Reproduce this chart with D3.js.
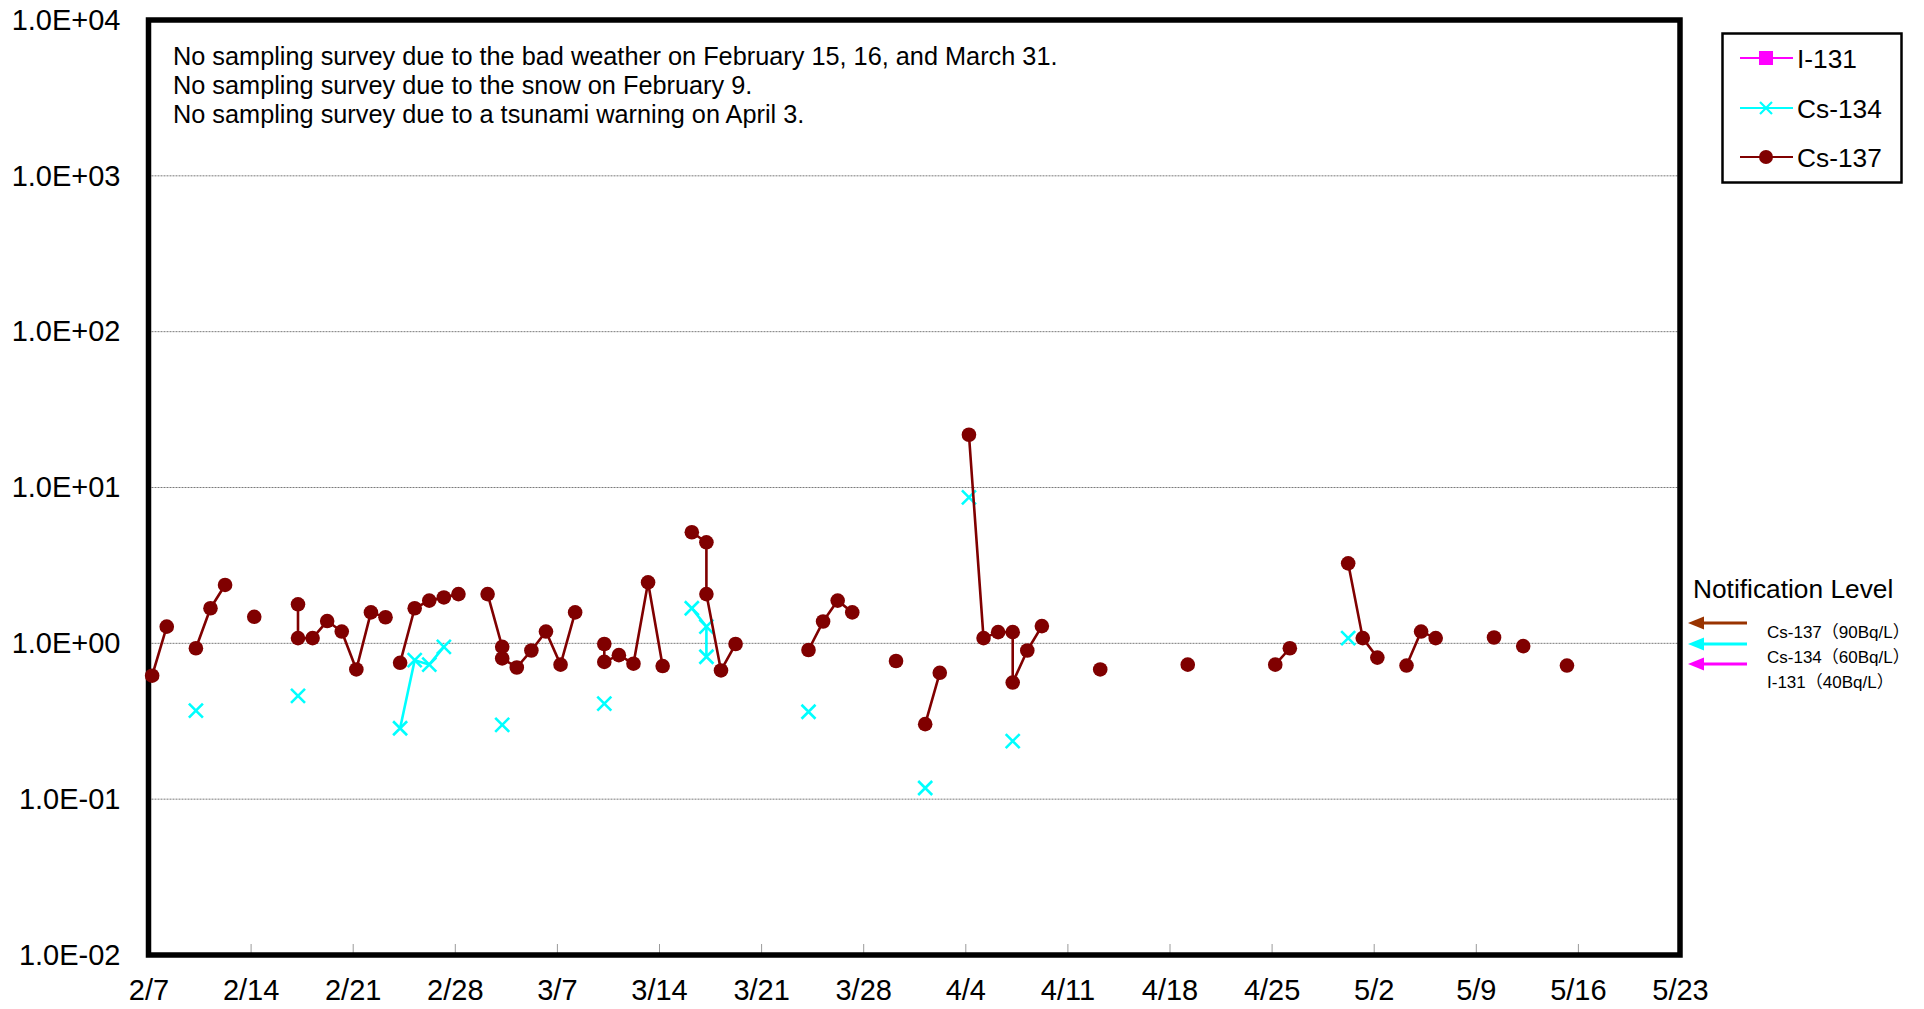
<!DOCTYPE html>
<html><head><meta charset="utf-8">
<script src="https://cdn.jsdelivr.net/npm/d3@7"></script>
<style>
html,body{margin:0;padding:0;background:#fff;}
svg{display:block;font-family:"Liberation Sans",Arial,sans-serif;}
</style></head><body>
<svg id="chart" width="1924" height="1009"></svg>
<script>
// ---------------- data ----------------
const year = 2013;          // non-leap year (Feb has 28 days)
const sampleHour = 6.5;     // samples taken early in the morning

// one slot per sampling (null = no sample / not detected -> breaks the line)
const sampleDates = [
  "2/7","2/8","2/9","2/10","2/11","2/12","2/13","2/14","2/15",
  "2/17","2/17","2/18","2/19","2/20","2/21","2/22","2/23","2/23",
  "2/24","2/25","2/26","2/27","2/28","3/1",
  "3/2","3/3","3/3","3/4","3/5","3/6","3/7","3/8","3/9",
  "3/10","3/10","3/11","3/12","3/13","3/14","3/15",
  "3/16","3/17","3/17","3/18","3/19","3/20",
  "3/24","3/25","3/26","3/27","3/28","3/30","3/31",
  "4/1","4/2","4/3","4/4","4/5","4/6","4/7","4/7","4/8","4/9","4/10",
  "4/13","4/14","4/19","4/20","4/25","4/26","4/27",
  "4/30","5/1","5/2","5/3","5/4","5/5","5/6","5/7",
  "5/10","5/11","5/12","5/13","5/15"
];
const cs137 = [
  0.62,1.28,null,0.93,1.68,2.37,null,1.48,null,
  1.78,1.08,1.08,1.39,1.19,0.68,1.58,1.47,null,
  0.75,1.68,1.88,1.97,2.07,null,
  2.07,0.95,0.80,0.70,0.90,1.19,0.73,1.58,null,
  0.99,0.76,0.84,0.74,2.46,0.715,null,
  5.16,4.45,2.07,0.67,0.99,null,
  0.906,1.38,1.88,1.58,null,0.77,null,
  0.303,0.647,null,21.8,1.08,1.18,1.18,0.56,0.90,1.29,null,
  0.68,null,0.73,null,0.73,0.93,null,
  3.26,1.08,0.81,null,0.72,1.19,1.08,null,
  1.09,null,0.96,null,0.72
];
const cs134 = [
  null,null,null,0.37,null,null,null,null,null,
  0.46,null,null,null,null,null,null,null,null,
  0.285,0.78,0.73,0.95,null,null,
  null,null,0.30,null,null,null,null,null,null,
  null,0.41,null,null,null,null,null,
  1.68,1.28,0.82,null,null,null,
  0.364,null,null,null,null,null,null,
  0.118,null,null,8.65,null,null,null,0.236,null,null,null,
  null,null,null,null,null,null,null,
  1.08,null,null,null,null,null,null,null,
  null,null,null,null,null
];
const i131 = [];   // I-131 not detected on any day

const yTicks = [1e-2,1e-1,1e0,1e1,1e2,1e3,1e4];
const xTickLabels = ["2/7","2/14","2/21","2/28","3/7","3/14","3/21","3/28","4/4","4/11","4/18","4/25","5/2","5/9","5/16","5/23"];
const notes = [
  "No sampling survey due to the bad weather on February 15, 16, and March 31.",
  "No sampling survey due to the snow on February 9.",
  "No sampling survey due to a tsunami warning on April 3."
];
const seriesNames = ["I-131","Cs-134","Cs-137"];
const notificationTitle = "Notification Level";
const notificationLabels = ["Cs-137（90Bq/L）","Cs-134（60Bq/L）","I-131（40Bq/L）"];

// ---------------- layout ----------------
const W = 1924, H = 1009;
const P = {left:148.5, right:1680, top:20, bottom:955};
const svg = d3.select("#chart");
svg.append("rect").attr("width",W).attr("height",H).attr("fill","#fff");

const parseMD = (s, h) => { const [m,d] = s.split("/").map(Number); return new Date(Date.UTC(year, m-1, d, h||0)); };

const x = d3.scaleUtc()
  .domain([parseMD(xTickLabels[0]), parseMD(xTickLabels[xTickLabels.length-1])])
  .range([P.left, P.right]);
const y = d3.scaleLog().domain([1e-2,1e4]).range([P.bottom, P.top]);

// gridlines
svg.append("g").selectAll("line").data(yTicks.slice(1,-1)).join("line")
  .attr("x1",P.left).attr("x2",P.right)
  .attr("y1",d=>y(d)).attr("y2",d=>y(d))
  .attr("stroke","#7a7a7a").attr("stroke-width",1).attr("stroke-dasharray","2,1");

// y axis labels
const fmtE = d => { const e = Math.round(Math.log10(d)); return "1.0E" + (e<0?"-":"+") + String(Math.abs(e)).padStart(2,"0"); };
const yAxis = svg.append("g").attr("transform",`translate(${P.left},0)`)
  .call(d3.axisLeft(y).tickValues(yTicks).tickFormat(fmtE).tickSize(0).tickPadding(28));
yAxis.select(".domain").remove();
yAxis.selectAll("text").attr("font-size",29).attr("font-family","Liberation Sans, Arial, sans-serif").attr("fill","#000");

// x axis
const xAxis = svg.append("g").attr("transform",`translate(0,${P.bottom})`)
  .call(d3.axisBottom(x).tickValues(xTickLabels.map(s=>parseMD(s)))
    .tickFormat(d3.utcFormat("%-m/%-d")).tickSizeInner(-11).tickSizeOuter(0));
xAxis.select(".domain").remove();
xAxis.selectAll(".tick line").attr("stroke","#9a9a9a").attr("stroke-width",1);
xAxis.selectAll("text").attr("font-size",29).attr("font-family","Liberation Sans, Arial, sans-serif")
  .attr("fill","#000").attr("y",45).attr("dy",0);

// plot frame
svg.append("rect").attr("x",P.left).attr("y",P.top)
  .attr("width",P.right-P.left).attr("height",P.bottom-P.top)
  .attr("fill","none").attr("stroke","#000").attr("stroke-width",5.5);

// series
const rows = sampleDates.map((s,i)=>({t:parseMD(s, sampleHour), c137:cs137[i], c134:cs134[i]}));
const drawLine = (key,color) => {
  svg.append("path").datum(rows)
    .attr("d", d3.line().defined(d=>d[key]!=null).x(d=>x(d.t)).y(d=>y(d[key])))
    .attr("fill","none").attr("stroke",color).attr("stroke-width",2.6).attr("stroke-linejoin","round");
};
const xMark = s => `M${-s},${-s}L${s},${s}M${-s},${s}L${s},${-s}`;

drawLine("c134","#00FFFF");
svg.append("g").selectAll("path").data(rows.filter(d=>d.c134!=null)).join("path")
  .attr("transform",d=>`translate(${x(d.t)},${y(d.c134)})`)
  .attr("d",xMark(7)).attr("stroke","#00FFFF").attr("stroke-width",2.6).attr("fill","none");

drawLine("c137","#800000");
svg.append("g").selectAll("circle").data(rows.filter(d=>d.c137!=null)).join("circle")
  .attr("cx",d=>x(d.t)).attr("cy",d=>y(d.c137)).attr("r",7.3).attr("fill","#800000");

// notes
svg.append("g").selectAll("text").data(notes).join("text")
  .attr("x",173).attr("y",(d,i)=>65+i*29)
  .attr("font-size",25.3).attr("fill","#000").text(d=>d);

// legend
const lg = svg.append("g");
lg.append("rect").attr("x",1722.5).attr("y",33.5).attr("width",179).attr("height",149)
  .attr("fill","#fff").attr("stroke","#000").attr("stroke-width",2.5);
const legendColors = ["#FF00FF","#00FFFF","#800000"];
const legendY = [58,108,157];
seriesNames.forEach((n,i)=>{
  const g = lg.append("g").attr("transform",`translate(0,${legendY[i]})`);
  g.append("line").attr("x1",1740).attr("x2",1793).attr("y1",0).attr("y2",0)
    .attr("stroke",legendColors[i]).attr("stroke-width",2.2);
  if(i===0) g.append("rect").attr("x",1766-7).attr("y",-7).attr("width",14).attr("height",14).attr("fill",legendColors[i]);
  if(i===1) g.append("path").attr("transform","translate(1766,0)").attr("d",xMark(6))
    .attr("stroke",legendColors[i]).attr("stroke-width",2.2);
  if(i===2) g.append("circle").attr("cx",1766).attr("cy",0).attr("r",7).attr("fill",legendColors[i]);
  g.append("text").attr("x",1797).attr("y",9.5).attr("font-size",26.3).attr("fill","#000").text(n);
});

// notification levels
const ng = svg.append("g");
ng.append("text").attr("x",1693).attr("y",598).attr("font-size",26.3).attr("fill","#000").text(notificationTitle);
const arrowColors = ["#993300","#00FFFF","#FF00FF"];
const arrowY = [623,644,664];
arrowColors.forEach((c,i)=>{
  const yy = arrowY[i];
  ng.append("line").attr("x1",1700).attr("x2",1747).attr("y1",yy).attr("y2",yy)
    .attr("stroke",c).attr("stroke-width",3.2);
  ng.append("path").attr("d",`M1688,${yy}L1704,${yy-6.5}L1704,${yy+6.5}Z`).attr("fill",c);
});
ng.selectAll("text.lab").data(notificationLabels).join("text").attr("class","lab")
  .attr("x",1767).attr("y",(d,i)=>638+i*25)
  .attr("font-size",17).attr("font-family","Liberation Sans, 'Noto Sans CJK JP', sans-serif")
  .attr("fill","#000").text(d=>d);
</script>
</body></html>
